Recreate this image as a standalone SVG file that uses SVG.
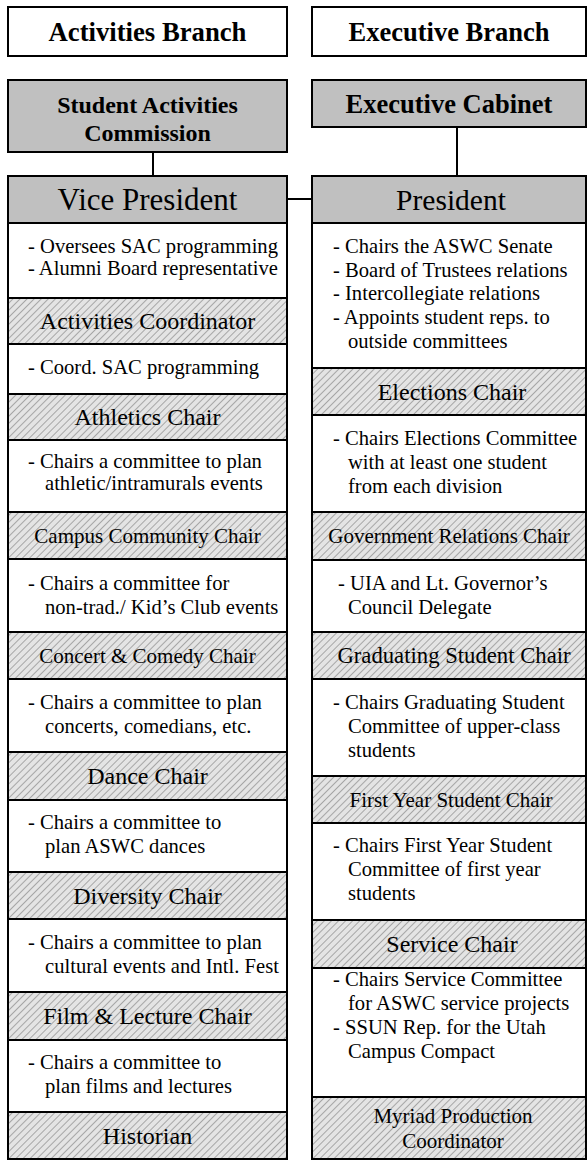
<svg xmlns="http://www.w3.org/2000/svg" width="588" height="1161" viewBox="0 0 588 1161">
<defs>
<pattern id="hatch" width="5" height="5" patternUnits="userSpaceOnUse" patternTransform="rotate(45)">
<rect width="5" height="5" fill="#e4e4e4"/>
<line x1="0" y1="0" x2="0" y2="5" stroke="#a6a6a6" stroke-width="2"/>
</pattern>
</defs>
<style>
.box{stroke:#000;stroke-width:2}
.white{fill:#fff}
.grey{fill:#c0c0c0}
.hatch{fill:url(#hatch)}
.t{font-family:"Liberation Serif","Times New Roman",serif;fill:#000}
.b{font-weight:bold}
.c{text-anchor:middle}
.d{font-size:20.6px}
.ch{font-size:24px}
.cs{font-size:21px}
.conn{stroke:#000;stroke-width:2;fill:none}
</style>

<g id="connectors">
<line class="conn" x1="153" y1="152" x2="153" y2="176"/>
<line class="conn" x1="457" y1="127" x2="457" y2="176"/>
<line class="conn" x1="287" y1="199" x2="312" y2="199"/>
</g>

<g id="activities-branch">
<rect class="box white" x="8" y="7" width="279" height="49"/>
<text class="t b c" x="147.5" y="41" font-size="26.7">Activities Branch</text>
</g>
<g id="executive-branch">
<rect class="box white" x="312" y="7" width="274" height="49"/>
<text class="t b c" x="449" y="41" font-size="26.5">Executive Branch</text>
</g>
<g id="student-activities-commission">
<rect class="box grey" x="8" y="80" width="279" height="72"/>
<text class="t b c" x="147.5" y="113" font-size="24">Student Activities</text>
<text class="t b c" x="147.5" y="141" font-size="24">Commission</text>
</g>
<g id="executive-cabinet">
<rect class="box grey" x="312" y="80" width="274" height="47"/>
<text class="t b c" x="449" y="113" font-size="26.5">Executive Cabinet</text>
</g>

<!-- Left column -->
<g id="left-column">
<rect class="box white" x="8" y="176" width="279" height="983"/>
</g>
<g id="vice-president">
<rect class="box grey" x="8" y="176" width="279" height="47"/>
<text class="t c" x="147.5" y="210" font-size="31">Vice President</text>
<text class="t d" x="28" y="253">- Oversees SAC programming</text>
<text class="t d" x="28" y="275">- Alumni Board representative</text>
</g>
<g id="activities-coordinator">
<rect class="box hatch" x="8" y="298" width="279" height="46"/>
<text class="t c ch" x="147.5" y="329">Activities Coordinator</text>
<text class="t d" x="28" y="374">- Coord. SAC programming</text>
</g>
<g id="athletics-chair">
<rect class="box hatch" x="8" y="394" width="279" height="46"/>
<text class="t c ch" x="147.5" y="425">Athletics Chair</text>
<text class="t d" x="28" y="468">- Chairs a committee to plan</text>
<text class="t d" x="45" y="490">athletic/intramurals events</text>
</g>
<g id="campus-community-chair">
<rect class="box hatch" x="8" y="512" width="279" height="47"/>
<text class="t c cs" x="147.5" y="543">Campus Community Chair</text>
<text class="t d" x="28" y="590">- Chairs a committee for</text>
<text class="t d" x="45" y="614">non-trad./ Kid’s Club events</text>
</g>
<g id="concert-comedy-chair">
<rect class="box hatch" x="8" y="632" width="279" height="47"/>
<text class="t c cs" x="147.5" y="663">Concert &amp; Comedy Chair</text>
<text class="t d" x="28" y="709">- Chairs a committee to plan</text>
<text class="t d" x="45" y="733">concerts, comedians, etc.</text>
</g>
<g id="dance-chair">
<rect class="box hatch" x="8" y="752" width="279" height="48"/>
<text class="t c ch" x="147.5" y="784">Dance Chair</text>
<text class="t d" x="28" y="829">- Chairs a committee to</text>
<text class="t d" x="45" y="853">plan ASWC dances</text>
</g>
<g id="diversity-chair">
<rect class="box hatch" x="8" y="872" width="279" height="47"/>
<text class="t c ch" x="147.5" y="904">Diversity Chair</text>
<text class="t d" x="28" y="949">- Chairs a committee to plan</text>
<text class="t d" x="45" y="973">cultural events and Intl. Fest</text>
</g>
<g id="film-lecture-chair">
<rect class="box hatch" x="8" y="992" width="279" height="48"/>
<text class="t c ch" x="147.5" y="1024">Film &amp; Lecture Chair</text>
<text class="t d" x="28" y="1069">- Chairs a committee to</text>
<text class="t d" x="45" y="1093">plan films and lectures</text>
</g>
<g id="historian">
<rect class="box hatch" x="8" y="1112" width="279" height="47"/>
<text class="t c ch" x="147.5" y="1144">Historian</text>
</g>

<!-- Right column -->
<g id="right-column">
<rect class="box white" x="312" y="176" width="274" height="983"/>
</g>
<g id="president">
<rect class="box grey" x="312" y="176" width="274" height="47"/>
<text class="t c" x="451" y="210" font-size="29.5">President</text>
<text class="t d" x="333" y="253">- Chairs the ASWC Senate</text>
<text class="t d" x="333" y="277">- Board of Trustees relations</text>
<text class="t d" x="333" y="300">- Intercollegiate relations</text>
<text class="t d" x="333" y="324">- Appoints student reps. to</text>
<text class="t d" x="348" y="348">outside committees</text>
</g>
<g id="elections-chair">
<rect class="box hatch" x="312" y="368" width="274" height="47"/>
<text class="t c ch" x="452" y="400">Elections Chair</text>
<text class="t d" x="333" y="445">- Chairs Elections Committee</text>
<text class="t d" x="348" y="469">with at least one student</text>
<text class="t d" x="348" y="493">from each division</text>
</g>
<g id="government-relations-chair">
<rect class="box hatch" x="312" y="512" width="274" height="48"/>
<text class="t c cs" x="449" y="543">Government Relations Chair</text>
<text class="t d" x="338" y="590">- UIA and Lt. Governor’s</text>
<text class="t d" x="348" y="614">Council Delegate</text>
</g>
<g id="graduating-student-chair">
<rect class="box hatch" x="312" y="632" width="274" height="47"/>
<text class="t c" x="454" y="663" font-size="22.7">Graduating Student Chair</text>
<text class="t d" x="333" y="709">- Chairs Graduating Student</text>
<text class="t d" x="348" y="733">Committee of upper-class</text>
<text class="t d" x="348" y="757">students</text>
</g>
<g id="first-year-student-chair">
<rect class="box hatch" x="312" y="776" width="274" height="47"/>
<text class="t c cs" x="451" y="807">First Year Student Chair</text>
<text class="t d" x="333" y="852">- Chairs First Year Student</text>
<text class="t d" x="348" y="876">Committee of first year</text>
<text class="t d" x="348" y="900">students</text>
</g>
<g id="service-chair">
<rect class="box hatch" x="312" y="920" width="274" height="48"/>
<text class="t c ch" x="452" y="952">Service Chair</text>
<text class="t d" x="333" y="986">- Chairs Service Committee</text>
<text class="t d" x="348" y="1010">for ASWC service projects</text>
<text class="t d" x="333" y="1034">- SSUN Rep. for the Utah</text>
<text class="t d" x="348" y="1058">Campus Compact</text>
</g>
<g id="myriad-production-coordinator">
<rect class="box hatch" x="312" y="1097" width="274" height="62"/>
<text class="t c cs" x="453" y="1123">Myriad Production</text>
<text class="t c cs" x="453" y="1148">Coordinator</text>
</g>
</svg>
